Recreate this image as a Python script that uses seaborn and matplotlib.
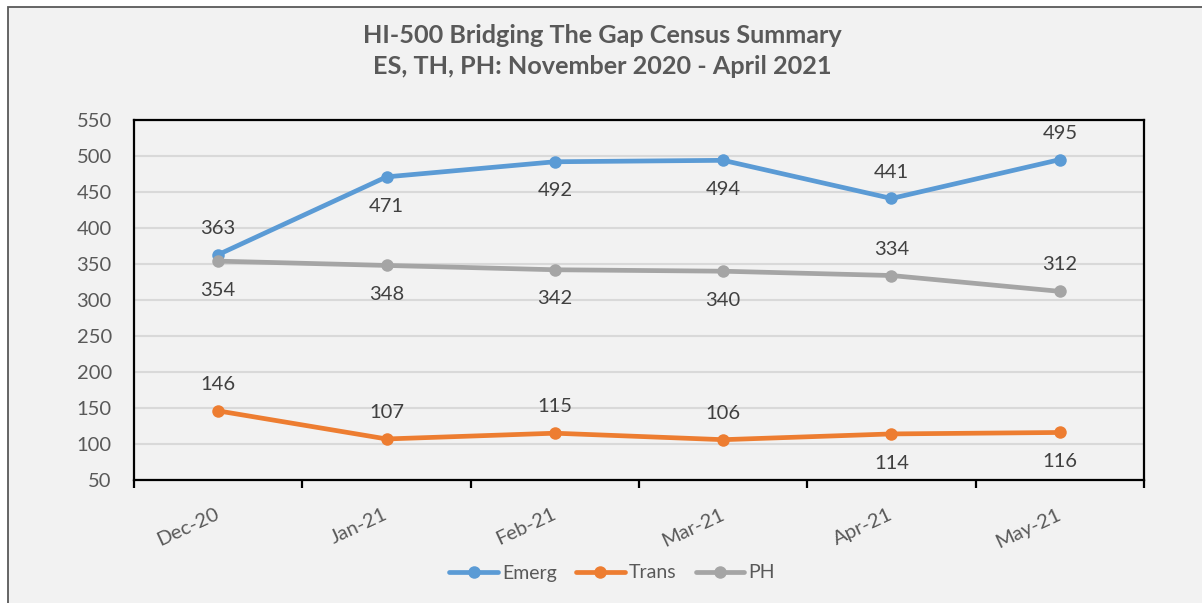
import pandas as pd
import seaborn as sns
import matplotlib.pyplot as plt
from matplotlib.patches import Rectangle
from matplotlib.ticker import FixedLocator

# census counts per month
months = ['Dec-20', 'Jan-21', 'Feb-21', 'Mar-21', 'Apr-21', 'May-21']
emerg = [363, 471, 492, 494, 441, 495]
trans = [146, 107, 115, 106, 114, 116]
ph = [354, 348, 342, 340, 334, 312]
series_names = ['Emerg', 'Trans', 'PH']

# where each value label sits (1 = above point, -1 = below)
emerg_side = [1, -1, -1, -1, 1, 1]
trans_side = [1, 1, 1, 1, -1, -1]
ph_side = [-1, -1, -1, -1, 1, 1]

colors = {'Emerg': '#5b9bd5', 'Trans': '#ed7d31', 'PH': '#a5a5a5'}

df = pd.DataFrame({
    'month': months * 3,
    'count': emerg + trans + ph,
    'series': [s for s in series_names for _ in months],
})

sns.set_style('white')
plt.rcParams['font.family'] = ['Lato', 'DejaVu Sans']

fig = plt.figure(figsize=(12.02, 6.03), dpi=100)
fig.patch.set_facecolor('white')
# chart-area frame (screenshot is cropped on right and bottom)
fig.patches.append(Rectangle((8 / 1202, -0.1), 1.2, 1 - 7 / 603 + 0.1,
                             transform=fig.transFigure, facecolor='#f2f2f2',
                             edgecolor='#595959', linewidth=1.3, zorder=-5))

ax = fig.add_axes([134 / 1202, 123 / 603, 1010 / 1202, 360 / 603])
ax.set_facecolor('#f2f2f2')

sns.lineplot(data=df, x='month', y='count', hue='series', palette=colors,
             hue_order=series_names, marker='o', markersize=9,
             markeredgewidth=0, linewidth=3.4, sort=False, ax=ax, zorder=3)

for vals, side, name in [(emerg, emerg_side, 'Emerg'), (trans, trans_side, 'Trans'),
                         (ph, ph_side, 'PH')]:
    for i, (v, s) in enumerate(zip(vals, side)):
        ax.annotate(str(v), (i, v), xytext=(0, 19 if s > 0 else -21),
                    textcoords='offset points', ha='center', va='center',
                    fontsize=14.5, color='#404040', zorder=4)

ax.set_xlim(-0.5, 5.5)
ax.set_ylim(50, 550)
ax.set_yticks(range(50, 551, 50))
ax.grid(axis='y', color='#d9d9d9', linewidth=1.5, zorder=0)
ax.grid(axis='x', visible=False)
ax.set_axisbelow(True)
for sp in ax.spines.values():
    sp.set_visible(True)
    sp.set_color('black')
    sp.set_linewidth(1.6)

ax.xaxis.set_minor_locator(FixedLocator([i - 0.5 for i in range(7)]))
ax.tick_params(axis='x', which='minor', direction='out', length=6, width=1.6,
               color='black', bottom=True)
ax.tick_params(axis='x', which='major', length=0, pad=24, labelsize=14.5,
               labelcolor='#595959')
ax.tick_params(axis='y', length=0, pad=16, labelsize=14.5, labelcolor='#595959')
for lab in ax.get_xticklabels():
    lab.set_rotation(25)
    lab.set_ha('right')
    lab.set_va('center')
    lab.set_rotation_mode('anchor')

ax.set_xlabel('')
ax.set_ylabel('')

handles, labels = ax.get_legend_handles_labels()
ax.get_legend().remove()
fig.legend(handles, labels, loc='center', bbox_to_anchor=(612 / 1202, 1 - 573 / 603),
           ncol=3, frameon=False, fontsize=14, handlelength=2.5,
           handletextpad=0.2, columnspacing=1.0, labelcolor='#595959')

fig.text(602 / 1202, 1 - 51 / 603, 'HI-500 Bridging The Gap Census Summary\n'
         'ES, TH, PH: November 2020 - April 2021', ha='center', va='center',
         fontsize=18.2, fontweight='bold', color='#595959', linespacing=1.4)

fig.savefig('out.png', dpi=100, facecolor=fig.get_facecolor())
